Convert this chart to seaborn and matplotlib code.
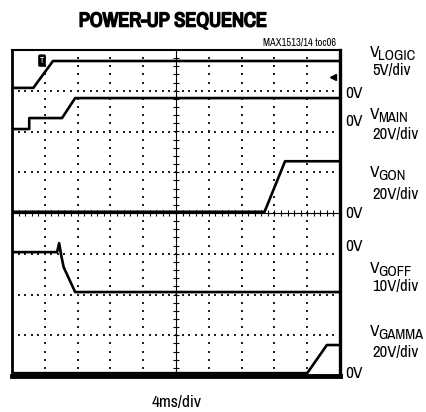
import numpy as np
import pandas as pd
import matplotlib
matplotlib.use("Agg")
import matplotlib.pyplot as plt
import matplotlib.patheffects as pe
import seaborn as sns
from matplotlib import font_manager

# time axis in ms (4ms/div, 10 div), trace values in volts
logic_t = [0, 2.6, 5.0, 40]
logic_v = [0, 0, 3.3, 3.3]

main_t = [0, 2.1, 2.1, 6.1, 7.7, 40]
main_v = [0, 0, 5.4, 5.4, 15.2, 15.2]

gon_t = [0, 30.8, 33.3, 40]
gon_v = [0, 0, 24.8, 24.8]

goff_t = [0, 5.5, 5.75, 6.0, 6.3, 7.7, 40]
goff_v = [0, 0, 2.2, -0.8, -3.7, -9.8, -9.8]

gamma_t = [0, 36.0, 38.4, 40]
gamma_v = [0, 0, 13.8, 13.8]

# channel setup: (name, times, volts, ground position in div, volts per div)
channels = [
    ("VLOGIC", logic_t, logic_v, 7.07, 5),
    ("VMAIN", main_t, main_v, 6.06, 20),
    ("VGON", gon_t, gon_v, 4.03, 20),
    ("VGOFF", goff_t, goff_v, 3.04, 10),
    ("VGAMMA", gamma_t, gamma_v, 0.07, 20),
]

sns.set_style("white")
names = sorted({f.name for f in font_manager.fontManager.ttflist})
if "Liberation Sans Narrow" in names:
    cond = "Liberation Sans Narrow"
else:
    narrow = [n for n in names if "Narrow" in n or "Condensed" in n]
    cond = narrow[0] if narrow else "Liberation Sans"
plt.rcParams["font.family"] = [cond, "DejaVu Sans"]
plt.rcParams["text.color"] = "black"

W, H = 427, 412
fig = plt.figure(figsize=(W / 100, H / 100), dpi=100)
ax = fig.add_axes([12 / W, 1 - 376 / H, 328 / W, 326 / H])


def px(x, y):
    return x / W, 1 - y / H


# scope graticule: dotted divisions
for gx in range(4, 40, 4):
    if gx == 20:
        continue
    ys = np.arange(0.2, 8, 0.2)
    ax.scatter(np.full_like(ys, gx), ys, s=1.3, marker="s", color="#222222", linewidths=0)
for gy in range(1, 8):
    if gy == 4:
        continue
    xs = np.arange(0.8, 40, 0.8)
    ax.scatter(xs, np.full_like(xs, gy), s=1.3, marker="s", color="#222222", linewidths=0)

# centre cross with minor ticks
ax.axvline(20, color="black", lw=0.8)
ax.axhline(4, color="black", lw=0.8)
ax.plot(np.full(39, 20.0), np.arange(0.2, 7.9, 0.2), ls="none", marker="_", ms=5, mew=0.8, color="black")
ax.plot(np.arange(0.8, 39.9, 0.8), np.full(49, 4.0), ls="none", marker="|", ms=5, mew=0.8, color="black")

# traces
for name, t, v, ground, vdiv in channels:
    df = pd.DataFrame({"t": t, "div": [ground + val / vdiv for val in v]})
    sns.lineplot(data=df, x="t", y="div", estimator=None, sort=False,
                 color="black", lw=1.9, ax=ax)

# trigger marker and ground arrow
ax.text(3.66, 7.74, "T", color="white", fontsize=6, fontweight="bold", ha="center", va="center",
        bbox=dict(boxstyle="round,pad=0.12", fc="black", ec="black"))
ax.plot(39.2, 7.34, marker="<", ms=5, color="black", clip_on=False)

ax.set_xlim(0, 40)
ax.set_ylim(0, 8)
ax.set_xticks([])
ax.set_yticks([])
ax.set_xlabel("")
ax.set_ylabel("")
for side, lw in [("left", 2.0), ("top", 1.5), ("right", 2.4), ("bottom", 3.5)]:
    ax.spines[side].set_visible(True)
    ax.spines[side].set_color("black")
    ax.spines[side].set_linewidth(lw)

# titles and labels
fig.text(*px(173, 21), "POWER-UP SEQUENCE", ha="center", va="center",
         fontsize=14.5, fontweight="bold",
         path_effects=[pe.withStroke(linewidth=1.2, foreground="black")])
fig.text(*px(336, 43), "MAX1513/14 toc06", ha="right", va="center", fontsize=7.5)
fig.text(*px(177, 403), "4ms/div", ha="center", va="center", fontsize=12.5)

fs = 12
# channel names: big V with a lowered, slightly smaller suffix
names_pos = [
    (370, 57, "LOGIC"),
    (370, 119, "MAIN"),
    (370, 177, "GON"),
    (370, 273, "GOFF"),
    (370, 336, "GAMMA"),
]
fig.canvas.draw()
renderer = fig.canvas.get_renderer()
for x, y, sub in names_pos:
    v = fig.text(*px(x, y), "V", ha="left", va="baseline", fontsize=fs + 0.5)
    bb = v.get_window_extent(renderer=renderer)
    fig.text((bb.x1 - 1.0) / W, (H - y - 3) / H, sub, ha="left", va="baseline",
             fontsize=fs - 1.5)

right_labels = [
    (372, 71, "5V/div", fs),
    (345, 93, "0V", 12.5),
    (345, 122, "0V", 12.5),
    (372, 134, "20V/div", fs),
    (372, 194, "20V/div", fs),
    (345, 213, "0V", 12.5),
    (345, 247, "0V", 12.5),
    (372, 287, "10V/div", fs),
    (372, 353, "20V/div", fs),
    (345, 374, "0V", 12.5),
]
for x, y, s, size in right_labels:
    fig.text(*px(x, y), s, ha="left", va="center", fontsize=size)

fig.savefig("out.png", dpi=100)
